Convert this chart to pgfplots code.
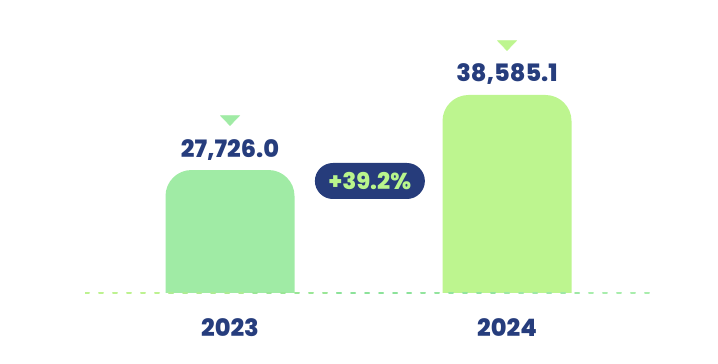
\documentclass[border=0pt]{standalone}
\usepackage{fontspec}
\setmainfont{Poppins}[BoldFont={Poppins ExtraBold}]
\usepackage{pgfplots}
\pgfplotsset{compat=1.18}
\definecolor{navy}{HTML}{263D7D}
\definecolor{barA}{HTML}{A0EBA5}
\definecolor{barB}{HTML}{BDF58F}
\definecolor{pillbg}{HTML}{263C7B}
\definecolor{pilltext}{HTML}{B9F58C}
\definecolor{d1}{HTML}{BDF290}
\definecolor{d2}{HTML}{ADEC93}
\definecolor{d3}{HTML}{9AE696}
\definecolor{d4}{HTML}{8CE29A}
\definecolor{d5}{HTML}{92E49D}
\definecolor{d6}{HTML}{9EE8A5}
\definecolor{d7}{HTML}{A8EDAC}
\newcommand{\bigfont}{\fontsize{24bp}{24bp}\selectfont\bfseries}
\pgfplotsset{
  common/.style={
    scale only axis, width=570bp,
    xmin=-0.5235, xmax=1.5343, ymax=52339,
    axis line style={draw=none}, tick style={draw=none},
    ytick=\empty,
    /pgf/number format/assume math mode=true,
  },
}
\begin{document}
\begin{tikzpicture}
% bars: drawn in their own axis, reaching below the baseline, clipped at it
\begin{scope}
\clip (-20bp,2bp) rectangle (600bp,300bp);
\begin{axis}[common, at={(0bp,-38bp)}, anchor=south west,
  height=333bp, ymin=4127, xtick=\empty,
  bar width=129bp, bar shift=0pt,
  barlab/.style={ybar, draw=none, rounded corners=26bp,
    nodes near coords,
    nodes near coords style={font=\bigfont, text=navy, anchor=base, yshift=13bp, inner sep=0pt,
      /pgf/number format/.cd, fixed, fixed zerofill, precision=1, 1000 sep={,}, assume math mode=true}},
]
\addplot[barlab, fill=barA] coordinates {(0,27726.0)};
\addplot[barlab, fill=barB] coordinates {(1,38585.1)};
\end{axis}
\end{scope}
\begin{axis}[common, at={(0bp,0bp)}, anchor=south west,
  height=295bp, ymin=9628,
  xtick={0,1}, xticklabels={2023,2024},
  xticklabel style={font=\bigfont, text=navy, anchor=base, yshift=-41bp},
  dashseg/.style={sharp plot, forget plot, line width=2bp, line cap=round, dash pattern=on 4bp off 10bp},
]
\addplot[dashseg, color=d1] coordinates {(-0.5235,9918) (-0.2202,9918)};
\addplot[dashseg, color=d2] coordinates {(-0.2202,9918) (0.0830,9918)};
\addplot[dashseg, color=d3] coordinates {(0.0830,9918) (0.3863,9918)};
\addplot[dashseg, color=d4] coordinates {(0.3863,9918) (0.6895,9918)};
\addplot[dashseg, color=d5] coordinates {(0.6895,9918) (0.9928,9918)};
\addplot[dashseg, color=d6] coordinates {(0.9928,9918) (1.2960,9918)};
\addplot[dashseg, color=d7] coordinates {(1.2960,9918) (1.5343,9918)};
\addplot[color=barA, only marks, mark=triangle*, mark size=11bp,
  mark options={yshift=51bp, rotate=180, yscale=0.6, draw=none, fill=barA}]
  coordinates {(0,27726.0)};
\addplot[color=barB, only marks, mark=triangle*, mark size=11bp,
  mark options={yshift=51bp, rotate=180, yscale=0.6, draw=none, fill=barB}]
  coordinates {(1,38585.1)};
\node[fill=pillbg, rounded corners=18bp, minimum width=110bp, minimum height=36bp,
  text=pilltext, font=\fontsize{23bp}{23bp}\selectfont\bfseries, inner sep=0pt]
  at (axis cs:0.505,26134) {+39.2\%};
\end{axis}
\pgfresetboundingbox
\path (-85bp,-69bp) rectangle (633bp,295bp);
\end{tikzpicture}
\end{document}
